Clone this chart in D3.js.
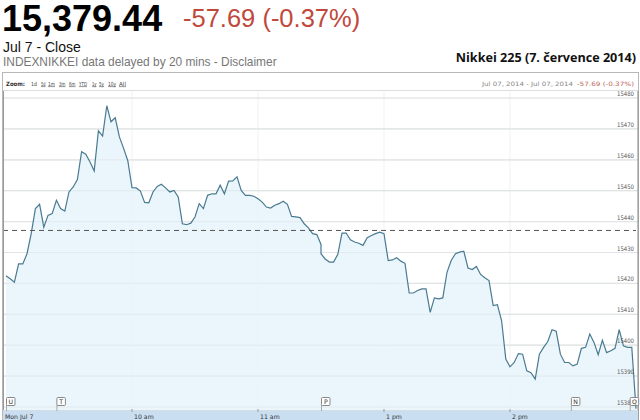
<!DOCTYPE html>
<html><head><meta charset="utf-8">
<script src="https://cdnjs.cloudflare.com/ajax/libs/d3/7.8.5/d3.min.js"></script>
<style>html,body{margin:0;padding:0;background:#fff;}svg{display:block;}</style>
</head><body>
<script>
// ---- data ----
const morningStart = "09:00";   // 2-minute samples, morning session
const morningValues = [15422.5,15421.5,15420.4,15426.3,15426.3,15429.6,15436.1,15444.2,15445.6,15438.2,
15442.0,15442.6,15446.9,15444.2,15443.4,15449.6,15451.2,15453.6,15462.6,15461.8,
15459.3,15456.4,15469.4,15467.7,15477.5,15472.3,15473.6,15467.4,15463.7,15459.7,
15451.0,15450.9,15449.9,15446.2,15446.1,15449.6,15451.4,15452.1,15450.9,15449.6,
15450.1,15448.0,15439.3,15439.0,15439.5,15441.5,15445.8,15444.2,15448.5,15449.0,
15449.0,15451.8,15449.0,15453.1,15453.2,15454.5,15450.1,15448.5,15448.5,15448.2,
15447.4,15446.3,15444.7,15444.4,15445.3,15445.8,15446.6,15445.6,15441.7,15441.5,
15441.3,15439.3,15438.0,15436.1,15435.8,15432.6];
const afternoonStart = "12:30"; // 2-minute samples, afternoon session
const afternoonValues = [15429.6,15427.9,15426.9,15426.9,15429.4,15436.3,15436.3,15434.1,15433.4,15433.0,
15432.3,15434.8,15435.5,15436.1,15436.6,15436.1,15427.4,15427.6,15428.3,15427.2,
15426.5,15416.9,15416.9,15417.7,15418.2,15418.2,15410.6,15415.3,15415.0,15415.3,
15423.6,15427.4,15429.6,15430.1,15430.4,15425.0,15424.5,15425.5,15422.9,15421.8,
15420.9,15412.8,15413.1,15407.9,15395.5,15393.0,15394.4,15397.3,15397.1,15391.7,
15391.1,15389.0,15397.1,15399.3,15401.2,15405.0,15404.5,15397.1,15394.4,15394.4,
15393.3,15393.9,15399.0,15399.3,15403.6,15400.9,15396.9,15401.6,15397.6,15398.2,
15399.0,15405.0,15399.8,15399.3,15399.3,15379.44];
const sampleMinutes = 2;
const previousClose = 15437.13;
const yTicks = [15380,15390,15400,15410,15420,15430,15440,15450,15460,15470,15480];
const xTickTimes = ["09:00","10:00","11:00","13:00","14:00"];
const xTickLabels = ["Mon Jul 7","10 am","11 am","1 pm","2 pm"];
const zoomLabels = ["1d","5d","1m","3m","6m","YTD","1y","5y","10y","All"];
const eventFlags = [{t:"09:00",l:"U"},{t:"09:24",l:"T"},{t:"11:30",l:"P"},{t:"14:29",l:"N"},{t:"14:57",l:"Q"}];

const W=640,H=420;
const svg=d3.select("body").append("svg").attr("width",W).attr("height",H);
const FONT="'Liberation Sans',Arial,sans-serif";
const SMALL="'DejaVu Sans',Verdana,sans-serif";

const toMin = s => { const [h,m]=s.split(":").map(Number); return (h-9)*60+m; };
const data = [];
const m0=toMin(morningStart), a0=toMin(afternoonStart);
morningValues.forEach((v,i)=>data.push({t:m0+i*sampleMinutes,v}));
afternoonValues.forEach((v,i)=>data.push({t:a0+i*sampleMinutes,v}));

// polylinear scale that collapses the lunch break
const x=d3.scaleLinear().domain([0,150,210,360]).range([6,321,321,636]);
const y=d3.scaleLinear().domain([15380,15480]).range([407,98]);

// ---- headline text ----
svg.append("text").attr("x",2).attr("y",31).attr("font-family",FONT).attr("font-weight","bold")
  .attr("font-size",36).attr("fill","#000").text("15,379.44");
svg.append("text").attr("x",183).attr("y",27).attr("font-family",FONT)
  .attr("font-size",25.5).attr("fill","#c0483c").text("-57.69 (-0.37%)");
svg.append("text").attr("x",3).attr("y",52).attr("font-family",FONT)
  .attr("font-size",14).attr("fill","#111").text("Jul 7 - Close");
svg.append("text").attr("x",3).attr("y",66).attr("font-family",FONT)
  .attr("font-size",11.9).attr("fill","#777").text("INDEXNIKKEI data delayed by 20 mins - Disclaimer");
svg.append("text").attr("x",636).attr("y",62).attr("text-anchor","end").attr("font-family","'Open Sans',sans-serif")
  .attr("font-weight","bold").attr("font-size",12.6).attr("fill","#111").text("Nikkei 225 (7. července 2014)");

// ---- frame ----
svg.append("rect").attr("x",2.5).attr("y",72.5).attr("width",636).attr("height",350)
  .attr("fill","none").attr("stroke","#b8b8b8");
svg.append("line").attr("x1",3).attr("x2",638).attr("y1",90.5).attr("y2",90.5).attr("stroke","#ddd");

// header row
svg.append("text").attr("x",6).attr("y",85.5).attr("font-family",SMALL).attr("font-size",6)
  .attr("font-weight","bold").attr("fill","#333").attr("textLength",19).attr("lengthAdjust","spacingAndGlyphs").text("Zoom:");
const zx=[31,41,48,59,69,79,92,99,108,119];
const zw=[6,4.5,7,6.5,6.5,8,4.5,5,8,7];
zoomLabels.forEach((z,i)=>{
  svg.append("text").attr("x",zx[i]).attr("y",85.5).attr("font-family",SMALL).attr("font-size",5.6)
    .attr("fill","#444").attr("text-decoration",i===0?"none":"underline")
    .attr("textLength",zw[i]).attr("lengthAdjust","spacingAndGlyphs").text(z);
});
svg.append("text").attr("x",482).attr("y",86).attr("font-family",SMALL).attr("font-size",6)
  .attr("fill","#888").attr("textLength",91).attr("lengthAdjust","spacingAndGlyphs").text("Jul 07, 2014  -  Jul 07, 2014");
svg.append("text").attr("x",577).attr("y",86).attr("font-family",SMALL).attr("font-size",6)
  .attr("fill","#c0685c").attr("textLength",57).attr("lengthAdjust","spacingAndGlyphs").text("-57.69 (-0.37%)");

// ---- plot ----
const g=svg.append("g");
xTickTimes.slice(1).forEach(t=>{
  g.append("line").attr("x1",x(toMin(t))).attr("x2",x(toMin(t))).attr("y1",91).attr("y2",410)
   .attr("stroke","#f1f1f1");
});
yTicks.forEach(v=>{
  g.append("line").attr("x1",3).attr("x2",638).attr("y1",y(v)).attr("y2",y(v))
   .attr("stroke","#e2e2e2").attr("stroke-width",1.2);
});
const area=d3.area().x(d=>x(d.t)).y0(y(15380)+4).y1(d=>y(d.v));
g.append("path").datum(data).attr("d",area).attr("fill","#e6f4fc").attr("fill-opacity",0.85);
yTicks.forEach(v=>{
  g.append("line").attr("x1",3).attr("x2",638).attr("y1",y(v)).attr("y2",y(v))
   .attr("stroke","#dfe6ea").attr("stroke-width",1.0).attr("stroke-opacity",0.6);
});
const line=d3.line().x(d=>x(d.t)).y(d=>y(d.v));
g.append("path").datum(data).attr("d",line).attr("fill","none").attr("stroke","#4a7a90").attr("stroke-width",1.2);
g.append("line").attr("x1",3).attr("x2",636).attr("y1",y(previousClose)).attr("y2",y(previousClose))
 .attr("stroke","#555").attr("stroke-dasharray","5,4").attr("stroke-width",1);
yTicks.forEach(v=>{
  g.append("text").attr("x",634).attr("y",y(v)-2).attr("text-anchor","end").attr("font-family",SMALL)
   .attr("font-size",6.2).attr("fill","#555").attr("textLength",17).attr("lengthAdjust","spacingAndGlyphs").text(v);
});
g.append("line").attr("x1",3.5).attr("x2",3.5).attr("y1",91).attr("y2",412).attr("stroke","#999");
svg.append("line").attr("x1",638).attr("x2",638).attr("y1",91).attr("y2",420).attr("stroke","#888");

// bottom band
svg.append("rect").attr("x",3).attr("y",411).attr("width",635).attr("height",12).attr("fill","#c9def1");
svg.append("line").attr("x1",3).attr("x2",638).attr("y1",410.5).attr("y2",410.5).attr("stroke","#d5dde3");
xTickTimes.forEach((t,i)=>{
  const xx=x(toMin(t));
  if(i>0) svg.append("line").attr("x1",xx).attr("x2",xx).attr("y1",409).attr("y2",412).attr("stroke","#999");
  svg.append("text").attr("x",i===0?5:xx+2).attr("y",418.5).attr("font-family",SMALL).attr("font-size",6.2)
    .attr("fill","#333").text(xTickLabels[i]);
});

// event flags
eventFlags.forEach(f=>{
  const xx=x(toMin(f.t));
  svg.append("line").attr("x1",xx+0.5).attr("x2",xx+0.5).attr("y1",405).attr("y2",411).attr("stroke","#999").attr("stroke-width",0.8);
  svg.append("rect").attr("x",xx+0.5).attr("y",397.5).attr("width",8.5).attr("height",8).attr("rx",1)
    .attr("fill","#fff").attr("stroke","#888");
  svg.append("text").attr("x",xx+4.75).attr("y",404.2).attr("text-anchor","middle").attr("font-family",SMALL)
    .attr("font-size",6.2).attr("fill","#333").text(f.l);
});
</script>
</body></html>
